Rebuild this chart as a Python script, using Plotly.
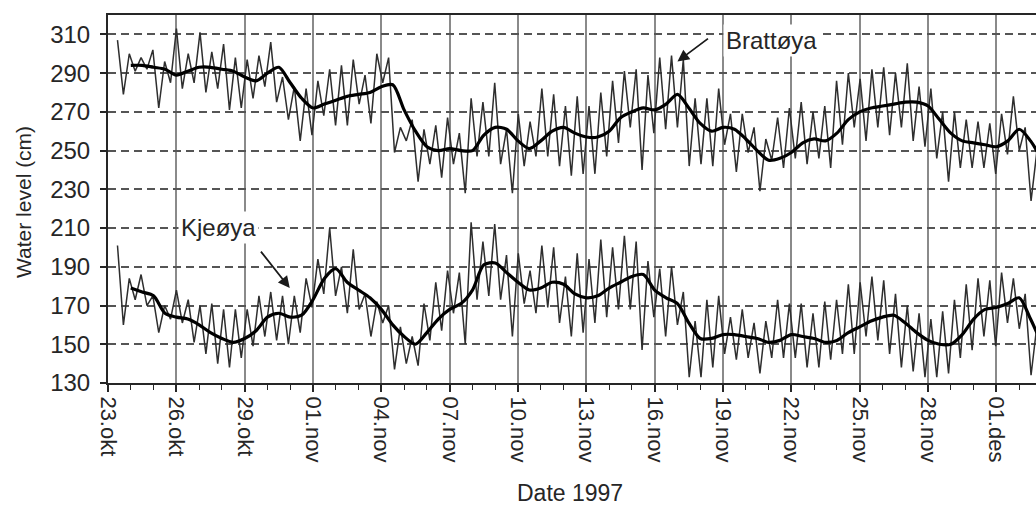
import pandas as pd
import plotly.graph_objects as go

# Tidal high/low water levels (cm), one value every half tidal period (~6.21 h)
brattoya_tide = [
    307, 279, 300, 291, 298, 292, 302, 272, 296, 285,
    313, 282, 300, 285, 311, 280, 301, 282, 305, 271,
    298, 272, 297, 277, 299, 283, 306, 275, 288, 266,
    283, 255, 282, 258, 286, 268, 292, 263, 294, 263,
    297, 274, 289, 264, 300, 285, 298, 249, 262, 255,
    266, 234, 261, 243, 263, 236, 267, 243, 259, 228,
    277, 247, 275, 247, 285, 243, 261, 228, 269, 242,
    265, 247, 282, 247, 279, 242, 273, 237, 278, 238,
    273, 238, 280, 247, 286, 254, 291, 262, 292, 240,
    289, 259, 298, 261, 299, 262, 297, 242, 277, 243,
    277, 242, 282, 253, 269, 239, 269, 249, 262, 229,
    256, 245, 267, 241, 272, 246, 275, 243, 270, 246,
    273, 241, 286, 253, 290, 262, 287, 255, 292, 262,
    293, 258, 290, 262, 295, 255, 283, 252, 282, 246,
    270, 234, 270, 241, 266, 241, 265, 241, 264, 238,
    269, 248, 278, 250, 262, 224, 250, 235,
]
kjeoya_tide = [
    201, 160, 184, 173, 186, 170, 175, 156, 170, 163,
    178, 161, 173, 151, 170, 145, 171, 140, 168, 138,
    168, 143, 168, 149, 175, 154, 177, 152, 175, 150,
    175, 156, 184, 169, 194, 176, 210, 175, 190, 166,
    199, 168, 176, 154, 172, 161, 170, 137, 159, 140,
    154, 139, 171, 152, 182, 157, 188, 166, 187, 150,
    213, 173, 203, 175, 212, 173, 196, 154, 197, 171,
    188, 166, 201, 169, 200, 161, 185, 154, 197, 156,
    194, 161, 204, 164, 200, 168, 206, 168, 203, 147,
    193, 164, 189, 154, 190, 160, 177, 133, 162, 133,
    173, 138, 175, 145, 164, 142, 168, 143, 161, 135,
    162, 143, 173, 143, 171, 143, 171, 138, 166, 138,
    172, 142, 173, 145, 181, 145, 182, 154, 185, 152,
    183, 145, 176, 138, 170, 136, 166, 133, 163, 133,
    167, 135, 173, 143, 181, 147, 184, 154, 183, 149,
    187, 161, 184, 158, 176, 134, 160, 145,
]

# Filtered (tide-free) water levels (cm), every 12 h from 24 Oct 00:00
brattoya_mean = [
    294, 294, 293, 292, 289, 291, 293, 293, 292, 291,
    288, 286, 290, 293, 285, 277, 272, 274, 276, 278,
    279, 280, 283, 284, 271, 260, 252, 250, 251, 250,
    250, 258, 262, 261, 255, 251, 255, 260, 262, 259,
    257, 257, 260, 267, 270, 272, 271, 274, 279, 272,
    264, 260, 262, 261, 256, 250, 245, 246, 249, 254,
    256, 255, 259, 266, 270, 272, 273, 274, 275, 275,
    273, 266, 259, 255, 254, 253, 252, 255, 261, 255,
    245,
]
kjeoya_mean = [
    179, 177, 175, 166, 164, 163, 160, 156, 153, 151,
    153, 157, 164, 166, 164, 165, 173, 184, 189, 182,
    178, 174, 168, 160, 154, 150, 156, 163, 168, 171,
    178, 191, 192, 187, 182, 178, 179, 182, 181, 176,
    174, 175, 179, 182, 185, 186, 178, 174, 171, 161,
    153, 153, 155, 155, 154, 153, 151, 152, 155, 154,
    153, 151, 152, 156, 159, 162, 164, 165, 161, 156,
    152, 150, 150, 155, 163, 168, 169, 171, 174, 163,
    150,
]

tick_labels = ["23.okt", "26.okt", "29.okt", "01.nov", "04.nov", "07.nov",
               "10.nov", "13.nov", "16.nov", "19.nov", "22.nov", "25.nov",
               "28.nov", "01.des"]
y_ticks = [130, 150, 170, 190, 210, 230, 250, 270, 290, 310]

tide_start = pd.Timestamp("1997-10-23 10:00")
tide_step = pd.Timedelta(minutes=372.6)
tide_times = [tide_start + i * tide_step for i in range(len(brattoya_tide))]
mean_times = pd.date_range("1997-10-24 00:00", periods=len(brattoya_mean), freq="12h")
tick_dates = pd.date_range("1997-10-23", periods=len(tick_labels), freq="3D")

FONT = "Liberation Sans, Arial, Helvetica, sans-serif"
INK = "#262626"

fig = go.Figure()
for name, vals in (("Brattøya", brattoya_tide), ("Kjeøya", kjeoya_tide)):
    fig.add_trace(go.Scatter(x=tide_times, y=vals, mode="lines", name=name,
                             line=dict(color="#2e2e2e", width=1.5),
                             showlegend=False, hoverinfo="skip"))
for name, vals in (("Brattøya filtered", brattoya_mean), ("Kjeøya filtered", kjeoya_mean)):
    fig.add_trace(go.Scatter(x=mean_times, y=vals, mode="lines", name=name,
                             line=dict(color="#000000", width=3.2, shape="spline", smoothing=0.8),
                             showlegend=False, hoverinfo="skip"))

fig.update_layout(
    width=1036, height=509, autosize=False,
    margin=dict(l=108, r=0, t=15, b=126),
    paper_bgcolor="white", plot_bgcolor="white",
    font=dict(family=FONT, color=INK, size=22),
    xaxis=dict(
        type="date",
        range=["1997-10-23 00:00", "1997-12-02 17:45"],
        tickmode="array", tickvals=tick_dates, ticktext=tick_labels,
        tickangle=90, tickfont=dict(size=22, family=FONT, color=INK),
        ticks="outside", ticklen=7, tickwidth=1.5, tickcolor=INK,
        minor=dict(ticks="outside", ticklen=5, tickwidth=1.2, tickcolor=INK,
                   dtick=86400000, tick0="1997-10-23", showgrid=False),
        showgrid=True, gridcolor="#8a8a8a", gridwidth=1.6,
        showline=True, linecolor=INK, linewidth=2, mirror=True,
        zeroline=False,
    ),
    yaxis=dict(
        range=[130, 320],
        tickmode="array", tickvals=y_ticks,
        tickfont=dict(size=24, family=FONT, color=INK),
        ticks="outside", ticklen=6, tickwidth=1.5, tickcolor=INK,
        ticklabelstandoff=5,
        showgrid=True, gridcolor="#555555", gridwidth=1.6, griddash="8px,5px",
        showline=True, linecolor=INK, linewidth=2, mirror=False,
        zeroline=False,
    ),
)

arrow_style = dict(showarrow=True, arrowhead=2, arrowsize=1.3, arrowwidth=1.8,
                   arrowcolor="#1a1a1a", text="")
fig.add_annotation(x="1997-11-17 00:00", y=296, ax=32, ay=-24, **arrow_style)
fig.add_annotation(x="1997-10-30 23:30", y=179, ax=-30, ay=-38, **arrow_style)

label_style = dict(showarrow=False, bgcolor="white", borderpad=2,
                   font=dict(size=24, family=FONT, color=INK))
fig.add_annotation(x="1997-11-21 03:20", y=307, text="Brattøya", **label_style)
fig.add_annotation(x="1997-10-27 20:40", y=210.5, text="Kjeøya", **label_style)

fig.add_annotation(xref="paper", yref="paper", x=-0.0905, y=0.492,
                   xanchor="center", yanchor="middle",
                   text="Water level (cm)", textangle=-90, showarrow=False,
                   font=dict(size=21, family=FONT, color=INK))
fig.add_annotation(xref="paper", yref="paper", x=0.498, y=-0.298,
                   xanchor="center", yanchor="middle",
                   text="Date 1997", showarrow=False,
                   font=dict(size=23, family=FONT, color=INK))

fig.write_html("out.html")
